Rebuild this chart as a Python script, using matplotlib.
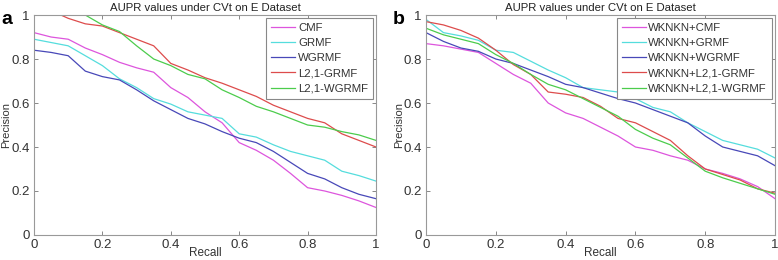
import numpy as np
import matplotlib
matplotlib.use("Agg")
import matplotlib.pyplot as plt

plt.rcParams["font.family"] = ["Liberation Sans", "DejaVu Sans"]

# recall grid shared by all curves
recall = [0.0, 0.05, 0.1, 0.15, 0.2, 0.25, 0.3, 0.35, 0.4, 0.45, 0.5,
          0.55, 0.6, 0.65, 0.7, 0.75, 0.8, 0.85, 0.9, 0.95, 1.0]

# panel a: precision values
a_cmf   = [0.92, 0.90, 0.89, 0.85, 0.82, 0.785, 0.76, 0.74, 0.67, 0.625, 0.56,
           0.51, 0.42, 0.385, 0.34, 0.28, 0.215, 0.20, 0.18, 0.155, 0.125]
a_grmf  = [0.89, 0.875, 0.86, 0.815, 0.77, 0.71, 0.67, 0.62, 0.595, 0.56, 0.545,
           0.53, 0.46, 0.445, 0.41, 0.38, 0.36, 0.34, 0.29, 0.27, 0.245]
a_wgrmf = [0.84, 0.83, 0.815, 0.745, 0.72, 0.705, 0.66, 0.61, 0.57, 0.53, 0.505,
           0.47, 0.44, 0.42, 0.38, 0.33, 0.28, 0.255, 0.215, 0.185, 0.165]
a_l21g  = [1.05, 1.02, 0.985, 0.96, 0.95, 0.92, 0.89, 0.86, 0.78, 0.75, 0.715,
           0.69, 0.66, 0.63, 0.59, 0.56, 0.53, 0.51, 0.46, 0.43, 0.40]
a_l21w  = [1.06, 1.04, 1.01, 1.0, 0.955, 0.925, 0.86, 0.80, 0.77, 0.73, 0.71,
           0.66, 0.625, 0.585, 0.56, 0.53, 0.50, 0.49, 0.47, 0.455, 0.43]

# panel b: precision values
b_cmf   = [0.87, 0.86, 0.845, 0.83, 0.78, 0.73, 0.69, 0.60, 0.555, 0.53, 0.49,
           0.45, 0.40, 0.385, 0.36, 0.34, 0.30, 0.28, 0.255, 0.22, 0.165]
b_grmf  = [0.98, 0.92, 0.905, 0.885, 0.84, 0.83, 0.79, 0.75, 0.715, 0.67, 0.66,
           0.65, 0.62, 0.58, 0.56, 0.51, 0.47, 0.43, 0.41, 0.39, 0.35]
b_wgrmf = [0.92, 0.88, 0.85, 0.835, 0.80, 0.78, 0.75, 0.72, 0.685, 0.67, 0.645,
           0.62, 0.60, 0.57, 0.54, 0.51, 0.45, 0.40, 0.38, 0.36, 0.315]
b_l21g  = [0.97, 0.955, 0.93, 0.895, 0.84, 0.775, 0.73, 0.65, 0.64, 0.625, 0.585,
           0.53, 0.51, 0.47, 0.43, 0.36, 0.30, 0.275, 0.25, 0.21, 0.19]
b_l21w  = [0.94, 0.91, 0.89, 0.87, 0.82, 0.78, 0.73, 0.685, 0.66, 0.62, 0.58,
           0.54, 0.48, 0.44, 0.41, 0.35, 0.29, 0.26, 0.235, 0.21, 0.185]

labels_a = ["CMF", "GRMF", "WGRMF", "L2,1-GRMF", "L2,1-WGRMF"]
labels_b = ["WKNKN+CMF", "WKNKN+GRMF", "WKNKN+WGRMF",
            "WKNKN+L2,1-GRMF", "WKNKN+L2,1-WGRMF"]
colors = ["#dd55dd", "#55dddd", "#4848b8", "#dd4c4c", "#4ccc4c"]
ticks = [0, 0.2, 0.4, 0.6, 0.8, 1]
tick_labels = ["0", "0.2", "0.4", "0.6", "0.8", "1"]

fig = plt.figure(figsize=(7.78, 2.6), dpi=100)
ax_a = fig.add_axes([0.0437, 0.0962, 0.4396, 0.846])
ax_b = fig.add_axes([0.5476, 0.0962, 0.4486, 0.846])


def draw_panel(ax, series, labels, letter, ylab_x):
    for ys, lab, col in zip(series, labels, colors):
        ax.plot(recall, ys, color=col, lw=0.9, label=lab)
    ax.set_xlim(0, 1)
    ax.set_ylim(0, 1)
    ax.set_xticks(ticks)
    ax.set_xticklabels(tick_labels)
    ax.set_yticks(ticks)
    ax.set_yticklabels(tick_labels)
    ax.tick_params(direction="in", top=True, right=True, length=3,
                   width=0.7, color="#888888", labelsize=9.5,
                   labelcolor="#333333", pad=3)
    for spine in ax.spines.values():
        spine.set_edgecolor("#999999")
        spine.set_linewidth(0.8)
    ax.set_title("AUPR values under CVt on E Dataset", fontsize=8.2,
                 color="#222222", pad=3)
    ax.set_xlabel("Recall", fontsize=8.5, color="#333333", labelpad=-3)
    ax.set_ylabel("Precision", fontsize=8, color="#333333")
    ax.yaxis.set_label_coords(ylab_x, 0.5)
    leg = ax.legend(loc="upper right", fontsize=8.2, frameon=True, fancybox=False,
                    framealpha=1, edgecolor="#888888", handlelength=2.1,
                    handletextpad=0.25, labelspacing=0.45, borderpad=0.45,
                    borderaxespad=0.25)
    leg.get_frame().set_linewidth(0.8)
    for t in leg.get_texts():
        t.set_color("#333333")
    ax.text(-0.095, 1.02, letter, transform=ax.transAxes, fontsize=14,
            fontweight="bold", va="top", ha="left")


draw_panel(ax_a, [a_cmf, a_grmf, a_wgrmf, a_l21g, a_l21w], labels_a, "a", -0.066)
draw_panel(ax_b, [b_cmf, b_grmf, b_wgrmf, b_l21g, b_l21w], labels_b, "b", -0.064)

fig.savefig("out.png", dpi=100)
